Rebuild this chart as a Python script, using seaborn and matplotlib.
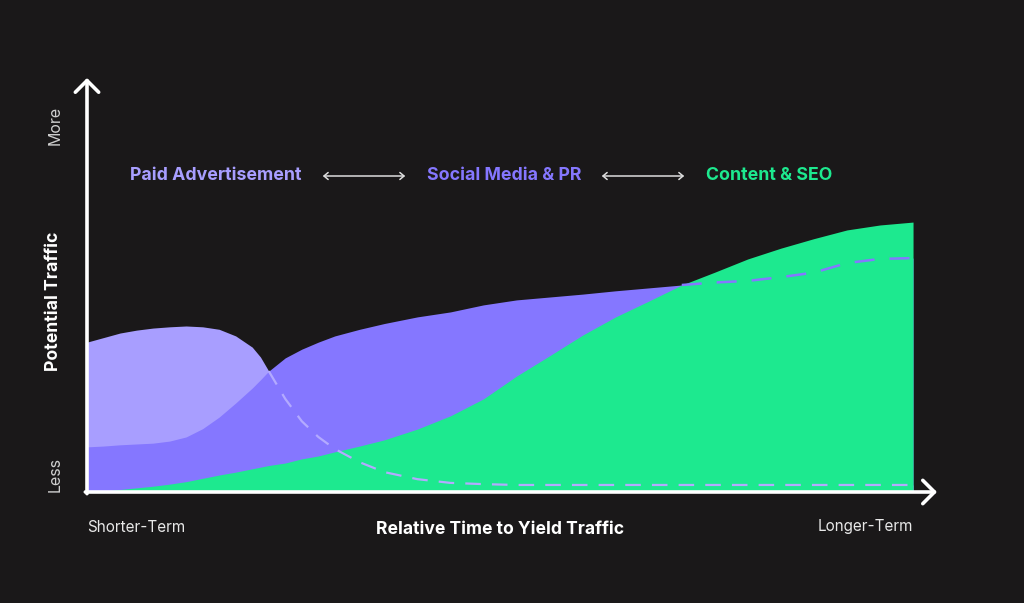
import numpy as np
import matplotlib
matplotlib.use("Agg")
import matplotlib.pyplot as plt
import seaborn as sns

# relative time (0 = shorter-term, 100 = longer-term)
time_pts = [0, 2, 4, 6, 8, 10, 12, 14, 16, 18, 20, 21, 22, 24, 26, 28, 30, 33, 36, 40,
            44, 48, 52, 56, 60, 64, 68, 72, 76, 80, 84, 88, 92, 96, 100]

# potential traffic per channel (0 = less, 100 = more)
paid_ads = [36.2, 37.3, 38.4, 39.1, 39.6, 39.9, 40.1, 39.9, 39.3, 37.7, 35.0, 32.6, 29.2,
            22.5, 17.1, 13.3, 10.4, 7.2, 4.8, 3.1, 2.2, 1.9,
            1.7, 1.7, 1.7, 1.7, 1.7, 1.7, 1.7, 1.7, 1.7, 1.7, 1.7, 1.7, 1.7]
social_pr = [10.9, 11.1, 11.4, 11.6, 11.8, 12.3, 13.3, 15.3, 18.1, 21.5, 25.1, 27.1, 29.2,
             32.4, 34.5, 36.2, 37.7, 39.3, 40.7, 42.3, 43.5, 45.2, 46.4, 47.1, 47.8, 48.6,
             49.3, 50.0, 50.6, 51.0, 51.9, 53.0, 55.3, 56.3, 56.5]
content_seo = [0.0, 0.2, 0.6, 1.0, 1.4, 1.9, 2.5, 3.3, 4.1, 4.8, 5.6, 6.0, 6.4, 7.0, 8.0,
               8.7, 9.7, 11.1, 12.6, 15.2, 18.4, 22.5, 28.0, 32.9, 37.9, 42.3, 46.1, 50.0,
               53.1, 56.3, 58.9, 61.2, 63.3, 64.5, 65.2]

labels = ["Paid Advertisement", "Social Media & PR", "Content & SEO"]
colors = ["#A89EFF", "#8577FF", "#1DE98F"]

BG = "#1A1819"

sns.set_theme(style="dark", rc={"figure.facecolor": BG, "axes.facecolor": BG})
plt.rcParams["font.family"] = ["Inter", "DejaVu Sans"]

x = np.array(time_pts, dtype=float)
paid = np.array(paid_ads)
social = np.array(social_pr)
seo = np.array(content_seo)

fig = plt.figure(figsize=(10.24, 6.03), dpi=100)
ax = fig.add_axes([87 / 1024, 111 / 603, 850 / 1024, 414 / 603])
ax.set_xlim(0, 102.9)
ax.set_ylim(0, 100)

ax.fill_between(x, 0, paid, color=colors[0], lw=0, zorder=1)
ax.fill_between(x, 0, social, color=colors[1], lw=0, zorder=2)
ax.fill_between(x, 0, seo, color=colors[2], lw=0, zorder=3)

# hidden parts of the curves drawn as dashed lines
paid_hidden = np.where(paid <= social, paid, np.nan)
social_hidden = np.where(social <= seo, social, np.nan)
sns.lineplot(x=x, y=paid_hidden, ax=ax, color="#B3AAFF", lw=1.6, zorder=4)
ax.lines[-1].set_dashes([7, 5])
sns.lineplot(x=x, y=social_hidden, ax=ax, color=colors[1], lw=1.8, zorder=4)
ax.lines[-1].set_dashes([8, 6])

for s in ax.spines.values():
    s.set_visible(False)
ax.set_xticks([])
ax.set_yticks([])
ax.set_xlabel("")
ax.set_ylabel("")

arrow = dict(arrowstyle="->,head_length=0.7,head_width=0.7", color="white", lw=2.6,
             shrinkA=0, shrinkB=0)
ax.annotate("", xy=(0, 1), xytext=(0, -0.004), xycoords="axes fraction", arrowprops=arrow,
            zorder=6, annotation_clip=False)
ax.annotate("", xy=(1, 0), xytext=(-0.002, 0), xycoords="axes fraction", arrowprops=arrow,
            zorder=6, annotation_clip=False)

def fx(px):
    return px / 1024

def fy(py):
    return 1 - py / 603

# axis texts
fig.text(fx(55), fy(125), "More", rotation=90, ha="center", va="center", color="#CFCFCF",
         fontsize=11.5)
fig.text(fx(55), fy(475), "Less", rotation=90, ha="center", va="center", color="#CFCFCF",
         fontsize=11.5)
fig.text(fx(54), fy(301), "Potential Traffic", rotation=90, ha="center", va="center",
         color="white", fontsize=12.7, fontweight="bold")
fig.text(fx(87), fy(527), "Shorter-Term", ha="left", va="center", color="#E8E8E8", fontsize=11)
fig.text(fx(913), fy(527), "Longer-Term", ha="right", va="center", color="#E8E8E8", fontsize=11)
fig.text(fx(500), fy(529), "Relative Time to Yield Traffic", ha="center", va="center",
         color="white", fontsize=12.6, fontweight="bold")

# channel labels with arrows between them
label_x = [130, 427, 706]
for lx, lab, c in zip(label_x, labels, colors):
    fig.text(fx(lx), fy(176), lab, ha="left", va="center", color=c, fontsize=12.75,
             fontweight="bold")
for x0, x1 in [(320, 408), (599, 687)]:
    fig.add_artist(matplotlib.patches.FancyArrowPatch(
        (fx(x0), fy(176)), (fx(x1), fy(176)), transform=fig.transFigure,
        arrowstyle="<->,head_length=3,head_width=2.5", color="#DDDDDD", lw=1.1,
        mutation_scale=1))

fig.savefig("out.png", dpi=100, facecolor=BG)
